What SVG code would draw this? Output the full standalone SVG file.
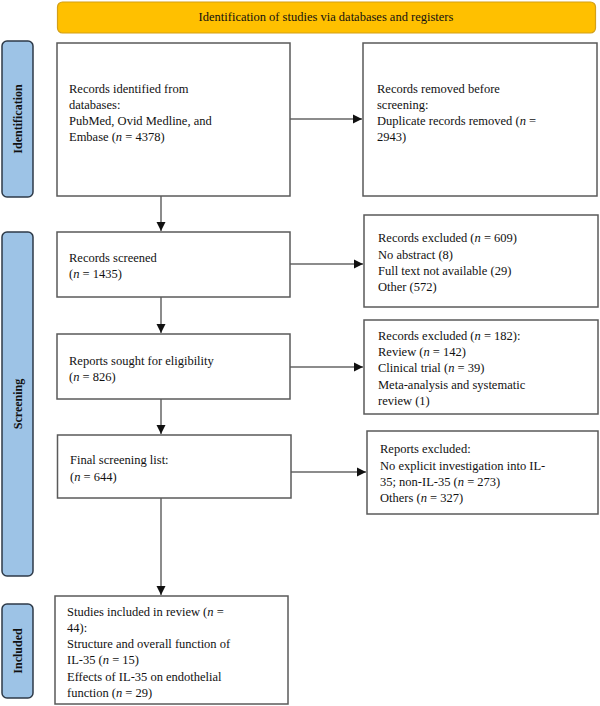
<svg xmlns="http://www.w3.org/2000/svg" width="600" height="706" viewBox="0 0 600 706">
<style>
  text { font-family: "Liberation Serif", "Times New Roman", serif; font-size: 12.5px; fill: #111; }
  .box { fill: #fff; stroke: #5a5a5a; stroke-width: 1.5; }
  .side { fill: #9DC3E6; stroke: #2E3A48; stroke-width: 1.5; }
  .sidet { font-size: 12px; font-weight: bold; text-anchor: middle; }
  .ban { fill: #FFC000; stroke: #D4A017; stroke-width: 1.2; }
  .bant { font-size: 12.5px; text-anchor: middle; }
  .con { stroke: #666; stroke-width: 1.5; fill: none; marker-end: url(#arr); }
  .i { font-style: italic; }
</style>
<defs>
  <marker id="arr" markerWidth="10" markerHeight="10" refX="9" refY="5" orient="auto" markerUnits="userSpaceOnUse">
    <path d="M0,0.5 L9,5 L0,9.5 Z" fill="#111"/>
  </marker>
</defs>
<rect width="600" height="706" fill="#fff"/>

<g id="banner">
  <rect class="ban" x="57.5" y="2" width="538" height="31" rx="5"/>
  <text class="bant" x="326" y="20.5">Identification of studies via databases and registers</text>
</g>

<g id="side-identification">
  <rect class="side" x="2" y="41" width="31" height="156" rx="5"/>
  <text class="sidet" transform="translate(21.5,119) rotate(-90)">Identification</text>
</g>
<g id="side-screening">
  <rect class="side" x="2" y="232" width="31" height="344" rx="5"/>
  <text class="sidet" transform="translate(21.5,404) rotate(-90)">Screening</text>
</g>
<g id="side-included">
  <rect class="side" x="2" y="604" width="31" height="94" rx="5"/>
  <text class="sidet" transform="translate(21.5,651) rotate(-90)">Included</text>
</g>

<g id="connectors">
  <line class="con" x1="290" y1="119" x2="362" y2="119"/>
  <line class="con" x1="161" y1="196" x2="161" y2="231"/>
  <line class="con" x1="290" y1="264" x2="363" y2="264"/>
  <line class="con" x1="161" y1="297" x2="161" y2="333"/>
  <line class="con" x1="290" y1="367" x2="363" y2="367"/>
  <line class="con" x1="161" y1="399" x2="161" y2="434"/>
  <line class="con" x1="291" y1="472" x2="366" y2="472"/>
  <line class="con" x1="161" y1="498" x2="161" y2="595"/>
</g>

<g id="records-identified">
  <rect class="box" x="57" y="43" width="233" height="153"/>
  <text x="69" y="93">Records identified from</text>
  <text x="69" y="109">databases:</text>
  <text x="69" y="125">PubMed, Ovid Medline, and</text>
  <text x="69" y="141">Embase (<tspan class="i">n</tspan> = 4378)</text>
</g>

<g id="records-removed">
  <rect class="box" x="363" y="43" width="234" height="153"/>
  <text x="377" y="93">Records removed before</text>
  <text x="377" y="109">screening:</text>
  <text x="377" y="125">Duplicate records removed (<tspan class="i">n</tspan> =</text>
  <text x="377" y="141">2943)</text>
</g>

<g id="records-screened">
  <rect class="box" x="57" y="232" width="233" height="65"/>
  <text x="69" y="262">Records screened</text>
  <text x="69" y="278">(<tspan class="i">n</tspan> = 1435)</text>
</g>

<g id="records-excluded-1">
  <rect class="box" x="364" y="215" width="234" height="92"/>
  <text x="378" y="242">Records excluded (<tspan class="i">n</tspan> = 609)</text>
  <text x="378" y="258.5">No abstract (8)</text>
  <text x="378" y="275">Full text not available (29)</text>
  <text x="378" y="291">Other (572)</text>
</g>

<g id="reports-sought">
  <rect class="box" x="57" y="334" width="233" height="65"/>
  <text x="69" y="365">Reports sought for eligibility</text>
  <text x="69" y="381">(<tspan class="i">n</tspan> = 826)</text>
</g>

<g id="records-excluded-2">
  <rect class="box" x="364" y="320" width="234" height="94"/>
  <text x="378" y="340">Records excluded (<tspan class="i">n</tspan> = 182):</text>
  <text x="378" y="356">Review (<tspan class="i">n</tspan> = 142)</text>
  <text x="378" y="372">Clinical trial (<tspan class="i">n</tspan> = 39)</text>
  <text x="378" y="389">Meta-analysis and systematic</text>
  <text x="378" y="405">review (1)</text>
</g>

<g id="final-screening">
  <rect class="box" x="57.5" y="435" width="233.5" height="63"/>
  <text x="70" y="464">Final screening list:</text>
  <text x="70" y="481">(<tspan class="i">n</tspan> = 644)</text>
</g>

<g id="reports-excluded">
  <rect class="box" x="367" y="431" width="231" height="83"/>
  <text x="380" y="453">Reports excluded:</text>
  <text x="380" y="470">No explicit investigation into IL-</text>
  <text x="380" y="486">35; non-IL-35 (<tspan class="i">n</tspan> = 273)</text>
  <text x="380" y="502">Others (<tspan class="i">n</tspan> = 327)</text>
</g>

<g id="studies-included">
  <rect class="box" x="55" y="596" width="233" height="108"/>
  <text x="67" y="616">Studies included in review (<tspan class="i">n</tspan> =</text>
  <text x="67" y="632">44):</text>
  <text x="67" y="648">Structure and overall function of</text>
  <text x="67" y="664">IL-35 (<tspan class="i">n</tspan> = 15)</text>
  <text x="67" y="681">Effects of IL-35 on endothelial</text>
  <text x="67" y="697">function (<tspan class="i">n</tspan> = 29)</text>
</g>
</svg>
